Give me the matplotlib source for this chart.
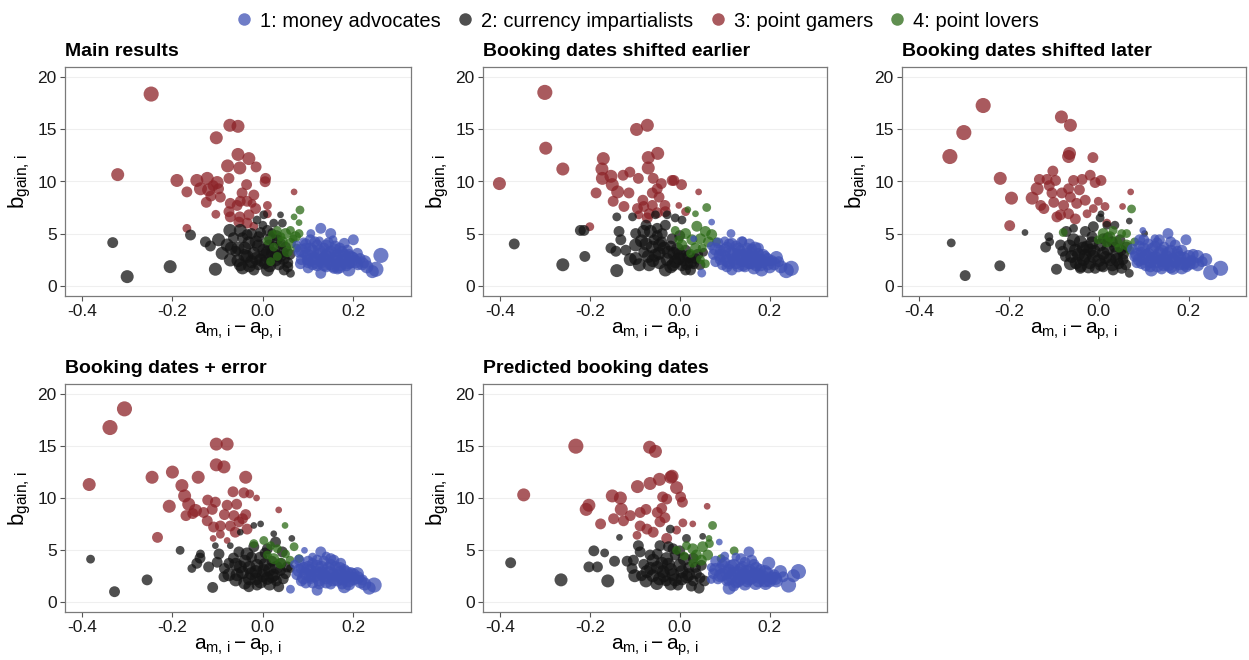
import matplotlib
matplotlib.use("Agg")
import matplotlib.pyplot as plt
from matplotlib.lines import Line2D

plt.rcParams['font.family'] = ['Liberation Sans', 'DejaVu Sans']
plt.rcParams['mathtext.fontset'] = 'custom'
plt.rcParams['mathtext.rm'] = 'Liberation Sans'
plt.rcParams['mathtext.it'] = 'Liberation Sans'

# group labels and colours
groups = ["1: money advocates", "2: currency impartialists", "3: point gamers", "4: point lovers"]
colors = ["#3F51B5", "#141414", "#8C2328", "#2B6A16"]

titles = ["Main results", "Booking dates shifted earlier", "Booking dates shifted later",
          "Booking dates + error", "Predicted booking dates"]

# points: (a_m - a_p, b_gain, weight 1..5)
p1_money = [(0.128, 5.5, 3), (0.15, 5.0, 3), (0.106, 5.0, 2), (0.2, 4.4, 3), (0.18, 4.06, 3), (0.187, 3.4, 3),
            (0.209, 3.1, 3), (0.261, 2.9, 5), (0.25, 1.57, 5), (0.242, 1.34, 4), (0.22, 2.1, 4), (0.128, 1.18, 3),
            (0.19, 1.5, 4), (0.157, 1.66, 3), (0.083, 2.1, 3), (0.098, 2.46, 3),
            (0.075, 3.9, 2), (0.08, 3.2, 3), (0.085, 2.5, 3), (0.09, 4.2, 2), (0.095, 3.6, 3), (0.1, 2.9, 4),
            (0.1, 2.2, 3), (0.105, 4.4, 3), (0.11, 3.3, 4), (0.115, 2.6, 4), (0.12, 1.9, 3), (0.12, 3.9, 3),
            (0.125, 3.0, 4), (0.13, 2.3, 4), (0.135, 3.6, 3), (0.14, 2.8, 4), (0.14, 1.8, 3), (0.145, 4.1, 3),
            (0.15, 3.2, 4), (0.155, 2.4, 4), (0.16, 3.8, 3), (0.165, 2.9, 4), (0.17, 2.0, 4), (0.175, 3.3, 3),
            (0.18, 2.5, 4), (0.185, 1.9, 3), (0.19, 3.0, 3), (0.195, 2.3, 4), (0.2, 2.7, 3), (0.21, 2.0, 3),
            (0.165, 1.6, 3), (0.11, 2.0, 3), (0.09, 3.0, 2), (0.125, 4.3, 2), (0.155, 4.4, 2),
            (0.085, 3.4, 4), (0.095, 4.0, 3), (0.105, 2.5, 4), (0.105, 3.5, 4), (0.115, 4.2, 3), (0.12, 2.2, 4),
            (0.125, 3.3, 4), (0.135, 2.0, 4), (0.135, 2.6, 4), (0.14, 3.9, 3), (0.145, 3.0, 4), (0.15, 2.1, 4),
            (0.16, 2.6, 4), (0.16, 3.4, 4), (0.17, 1.8, 4), (0.17, 3.6, 3), (0.175, 2.4, 4), (0.18, 2.9, 4),
            (0.19, 2.2, 4), (0.195, 2.7, 4), (0.205, 2.3, 4), (0.215, 2.6, 3), (0.225, 2.3, 4), (0.23, 1.8, 4),
            (0.1, 1.7, 3), (0.155, 1.9, 4)]
p1_impart = [(-0.332, 4.13, 3), (-0.30, 0.86, 4), (-0.205, 1.82, 4), (-0.105, 1.57, 4), (-0.16, 4.86, 3),
             (-0.127, 4.2, 3), (-0.116, 3.8, 3), (-0.098, 4.4, 4), (-0.073, 5.3, 4), (-0.05, 5.3, 4),
             (-0.079, 3.9, 4), (-0.09, 3.1, 4), (-0.072, 2.46, 4), (-0.05, 2.0, 4), (-0.031, 4.1, 4),
             (-0.02, 3.1, 4), (-0.013, 6.3, 2), (0.002, 6.8, 2), (0.01, 5.3, 3), (0.024, 6.0, 2), (0.039, 6.8, 1),
             (0.043, 6.0, 2), (-0.005, 2.46, 4), (0.01, 1.5, 4), (0.028, 2.46, 4), (0.047, 1.5, 3), (0.061, 1.18, 2),
             (0.013, 3.9, 3), (0.032, 4.4, 3), (0.05, 3.7, 3), (-0.009, 4.7, 3), (-0.035, 2.8, 4), (-0.02, 1.5, 3),
             (0.021, 3.1, 4), (0.035, 2.1, 4), (0.002, 3.4, 4), (-0.06, 3.3, 3), (-0.045, 4.6, 3), (-0.01, 2.0, 3),
             (0.04, 2.8, 3), (0.055, 2.2, 3), (0.06, 3.0, 3), (-0.025, 5.0, 3), (-0.065, 4.6, 3), (0.0, 5.8, 2),
             (0.02, 5.1, 2),
             (-0.04, 3.6, 4), (-0.015, 4.2, 4), (0.005, 2.9, 4), (0.025, 3.6, 4), (-0.055, 2.4, 4), (0.015, 1.9, 4),
             (0.045, 3.2, 3), (-0.03, 1.9, 4), (-0.005, 5.1, 3), (0.03, 4.8, 3),
             (-0.055, 3.6, 4), (-0.04, 2.9, 4), (-0.025, 2.3, 4), (-0.01, 3.8, 4), (0.005, 2.2, 4), (0.015, 4.5, 3),
             (0.03, 2.9, 4), (0.045, 2.6, 4), (-0.07, 3.6, 4), (-0.035, 4.9, 3), (0.055, 1.8, 3), (-0.015, 2.6, 4),
             (0.04, 4.0, 3), (0.01, 3.2, 4), (-0.045, 1.7, 4)]
p1_gamers = [(-0.247, 18.4, 5), (-0.321, 10.66, 4), (-0.073, 15.4, 4), (-0.055, 15.3, 4), (-0.103, 14.2, 4),
             (-0.055, 12.6, 4), (-0.031, 12.2, 4), (-0.078, 11.5, 4), (-0.051, 11.3, 4), (-0.015, 11.4, 3),
             (-0.19, 10.1, 4), (-0.146, 10.1, 4), (-0.123, 10.3, 4), (-0.101, 9.9, 4), (-0.075, 10.3, 3),
             (0.006, 10.3, 3), (0.005, 9.98, 3), (-0.138, 9.3, 4), (-0.12, 9.2, 4), (-0.098, 9.3, 3),
             (-0.168, 9.0, 3), (-0.036, 9.7, 3), (-0.046, 8.9, 3), (-0.02, 8.7, 3), (0.069, 9.0, 1),
             (-0.125, 8.0, 3), (-0.094, 8.5, 3), (-0.072, 7.9, 3), (-0.05, 8.1, 3), (-0.035, 8.1, 3),
             (-0.024, 7.9, 2), (0.01, 7.7, 2), (-0.075, 7.1, 3), (-0.057, 7.7, 3), (-0.016, 7.4, 3),
             (-0.104, 6.85, 2), (-0.072, 6.6, 3), (-0.051, 6.6, 3), (-0.031, 6.8, 3), (0.01, 6.9, 2),
             (-0.053, 6.1, 3), (-0.168, 5.5, 2), (-0.035, 6.0, 3), (-0.02, 5.7, 2), (-0.115, 8.6, 3), (-0.11, 9.6, 3)]
p1_lovers = [(0.082, 7.26, 2), (0.069, 6.6, 1), (0.08, 6.05, 1), (0.061, 5.3, 2), (0.072, 4.7, 3), (0.05, 5.0, 3),
             (0.032, 5.3, 2), (0.021, 4.9, 2), (0.043, 4.2, 3), (0.061, 4.06, 3), (0.08, 5.0, 2), (0.024, 3.7, 2),
             (0.054, 3.26, 3), (0.032, 2.8, 2), (0.017, 2.3, 2), (0.075, 3.6, 2), (0.067, 4.5, 2), (0.04, 4.7, 2),
             (0.01, 4.3, 2)]

p2_money = [(0.114, 5.0, 2), (0.071, 6.1, 1), (0.031, 4.5, 1), (0.049, 1.2, 2), (0.237, 1.44, 5), (0.248, 1.66, 5),
            (0.215, 2.7, 4), (0.178, 2.5, 4), (0.167, 3.6, 4), (0.116, 4.06, 3), (0.138, 4.2, 3), (0.182, 1.5, 4),
            (0.116, 1.5, 3), (0.197, 2.1, 4), (0.09, 2.5, 3),
            (0.07, 3.8, 2), (0.075, 3.0, 3), (0.08, 2.3, 3), (0.085, 4.1, 3), (0.09, 3.4, 3), (0.095, 2.0, 3),
            (0.1, 2.8, 4), (0.105, 3.7, 3), (0.11, 2.2, 4), (0.115, 3.1, 4), (0.12, 2.5, 4), (0.125, 3.8, 3),
            (0.13, 1.9, 4), (0.13, 2.9, 4), (0.135, 3.4, 3), (0.14, 2.4, 4), (0.145, 1.8, 3), (0.15, 3.0, 4),
            (0.155, 2.2, 4), (0.16, 3.5, 3), (0.165, 2.7, 4), (0.17, 2.0, 4), (0.175, 3.1, 3), (0.185, 2.3, 4),
            (0.19, 2.8, 3), (0.2, 1.8, 4), (0.205, 2.4, 3), (0.14, 4.3, 2), (0.1, 4.3, 2), (0.155, 4.0, 3),
            (0.08, 3.5, 4), (0.09, 2.9, 4), (0.1, 3.4, 4), (0.105, 2.4, 4), (0.11, 4.0, 3), (0.12, 3.0, 4),
            (0.125, 2.2, 4), (0.13, 3.5, 4), (0.14, 2.9, 4), (0.14, 2.0, 4), (0.15, 2.6, 4), (0.15, 3.6, 3),
            (0.16, 2.2, 4), (0.16, 3.0, 4), (0.17, 2.5, 4), (0.175, 3.6, 3), (0.18, 2.0, 4), (0.185, 2.9, 4),
            (0.195, 2.5, 4), (0.21, 2.1, 4), (0.22, 2.3, 3), (0.225, 1.8, 4), (0.105, 1.8, 3), (0.165, 1.7, 4)]
p2_impart = [(-0.368, 4.0, 3), (-0.26, 2.0, 4), (-0.211, 2.8, 3), (-0.221, 5.3, 3), (-0.213, 5.3, 3),
             (-0.14, 1.44, 4), (-0.098, 2.6, 4), (-0.098, 3.9, 4), (-0.14, 6.6, 2), (-0.135, 5.2, 3),
             (-0.131, 4.4, 3), (-0.153, 3.6, 3), (-0.142, 3.3, 3), (-0.12, 3.4, 3), (-0.105, 6.6, 2),
             (-0.098, 5.0, 3), (-0.08, 5.2, 4), (-0.065, 5.2, 4), (-0.05, 5.5, 3), (-0.054, 6.8, 2),
             (-0.028, 6.8, 2), (-0.07, 2.8, 4), (-0.068, 2.0, 4), (-0.061, 3.7, 4), (-0.046, 3.1, 4),
             (-0.032, 1.5, 4), (-0.028, 2.5, 4), (-0.01, 2.3, 4), (-0.013, 3.1, 4), (-0.002, 2.6, 4),
             (0.013, 1.5, 3), (0.024, 1.5, 3), (0.031, 2.1, 3), (0.016, 2.1, 4), (-0.01, 6.5, 2),
             (-0.032, 5.8, 3), (-0.039, 5.0, 3), (-0.017, 4.5, 3), (-0.057, 4.4, 3), (0.053, 3.2, 2),
             (0.013, 3.4, 3), (0.005, 6.3, 2), (-0.04, 4.2, 3), (-0.08, 3.2, 3), (-0.02, 3.8, 3), (0.0, 4.8, 3),
             (0.035, 2.6, 3),
             (-0.085, 4.3, 4), (-0.055, 2.9, 4), (-0.035, 3.6, 4), (-0.005, 3.5, 4), (0.02, 2.8, 4), (-0.02, 1.8, 4),
             (-0.045, 2.2, 4), (-0.075, 5.8, 3), (0.005, 1.9, 3), (0.04, 3.0, 3),
             (-0.09, 2.0, 4), (-0.06, 2.4, 4), (-0.045, 3.9, 4), (-0.025, 3.2, 4), (0.0, 3.0, 4), (0.025, 2.3, 4),
             (-0.075, 4.0, 4), (-0.015, 2.0, 4), (0.01, 2.5, 4), (-0.05, 4.8, 3), (0.045, 2.0, 3), (-0.11, 2.5, 4)]
p2_gamers = [(-0.300, 18.56, 5), (-0.401, 9.8, 4), (-0.298, 13.2, 4), (-0.26, 11.2, 4), (-0.096, 15.0, 4),
             (-0.072, 15.4, 4), (-0.17, 12.2, 4), (-0.173, 11.2, 4), (-0.172, 10.3, 4), (-0.153, 10.5, 4),
             (-0.15, 9.7, 4), (-0.138, 9.0, 4), (-0.186, 8.9, 3), (-0.148, 8.1, 3), (-0.126, 10.6, 3),
             (-0.111, 10.9, 3), (-0.113, 8.9, 3), (-0.092, 10.3, 3), (-0.07, 12.3, 4), (-0.07, 11.3, 4),
             (-0.049, 12.7, 4), (-0.059, 10.3, 3), (-0.05, 9.3, 3), (-0.041, 9.8, 3), (-0.046, 8.5, 3),
             (-0.061, 8.9, 3), (-0.082, 8.2, 3), (-0.08, 7.6, 3), (-0.094, 7.4, 3), (-0.124, 7.6, 3),
             (-0.061, 7.7, 3), (-0.033, 7.7, 3), (-0.017, 10.1, 3), (-0.013, 10.1, 3), (0.004, 9.7, 3),
             (0.042, 9.0, 1), (-0.091, 6.8, 2), (-0.068, 6.9, 3), (-0.032, 7.1, 3), (-0.002, 7.7, 1),
             (0.013, 7.1, 2), (-0.072, 6.5, 3), (-0.2, 5.66, 2), (-0.05, 7.0, 3)]
p2_lovers = [(0.06, 7.5, 2), (0.035, 6.9, 1), (0.018, 7.3, 1), (0.038, 5.7, 3), (0.057, 5.2, 3), (0.071, 4.9, 3),
             (-0.01, 5.3, 2), (0.013, 5.0, 3), (0.027, 4.4, 3), (0.046, 4.5, 3), (0.064, 4.2, 3), (0.082, 4.2, 2),
             (0.005, 3.9, 3), (0.035, 3.6, 3), (0.024, 3.1, 2), (0.046, 2.5, 2), (0.057, 2.1, 2), (-0.002, 4.4, 2),
             (0.05, 3.6, 2)]

p3_money = [(0.154, 5.0, 3), (0.135, 4.4, 3), (0.194, 4.4, 3), (0.271, 1.66, 5), (0.249, 1.25, 5), (0.238, 2.5, 4),
            (0.22, 2.8, 4), (0.201, 2.1, 4), (0.165, 1.66, 4), (0.117, 1.5, 4), (0.095, 2.1, 3), (0.091, 4.4, 3),
            (0.098, 5.3, 1),
            (0.075, 3.5, 3), (0.08, 2.8, 3), (0.085, 2.2, 3), (0.09, 3.8, 3), (0.095, 3.2, 3), (0.1, 2.6, 4),
            (0.105, 1.9, 3), (0.11, 4.0, 3), (0.11, 3.0, 4), (0.115, 2.3, 4), (0.12, 3.5, 4), (0.125, 2.7, 4),
            (0.13, 1.9, 4), (0.13, 4.1, 3), (0.135, 3.1, 4), (0.14, 2.4, 4), (0.145, 3.7, 3), (0.15, 2.8, 4),
            (0.155, 2.0, 4), (0.16, 3.3, 4), (0.165, 2.5, 4), (0.17, 3.9, 3), (0.175, 2.9, 4), (0.18, 2.1, 4),
            (0.185, 3.4, 3), (0.19, 2.6, 4), (0.195, 1.8, 3), (0.205, 2.4, 3), (0.21, 3.0, 3), (0.125, 4.5, 2),
            (0.16, 4.2, 3),
            (0.085, 3.0, 4), (0.09, 2.5, 4), (0.1, 3.5, 4), (0.105, 2.9, 4), (0.115, 1.8, 3), (0.12, 2.6, 4),
            (0.125, 3.8, 3), (0.13, 2.3, 4), (0.14, 3.3, 4), (0.145, 2.0, 4), (0.15, 2.4, 4), (0.155, 3.1, 4),
            (0.16, 1.8, 4), (0.17, 2.3, 4), (0.175, 3.3, 3), (0.18, 2.7, 4), (0.19, 2.1, 4), (0.2, 2.8, 4),
            (0.21, 2.2, 4), (0.22, 2.0, 4), (0.23, 2.3, 3), (0.1, 4.4, 3), (0.14, 1.6, 3), (0.185, 1.7, 4)]
p3_impart = [(-0.328, 4.1, 2), (-0.297, 0.96, 3), (-0.22, 1.9, 3), (-0.164, 5.1, 1), (-0.094, 1.57, 3),
             (-0.111, 4.7, 2), (-0.109, 4.2, 2), (-0.118, 3.7, 3), (-0.085, 3.9, 3), (-0.072, 5.2, 3),
             (-0.074, 2.8, 3), (-0.063, 2.1, 4), (-0.052, 3.4, 4), (-0.041, 4.2, 4), (-0.034, 2.5, 4),
             (-0.023, 1.8, 4), (-0.041, 1.66, 3), (-0.008, 1.66, 3), (0.01, 1.8, 3), (0.032, 1.5, 3),
             (0.051, 1.66, 3), (0.068, 1.18, 2), (-0.012, 5.66, 3), (0.003, 6.5, 2), (0.005, 6.9, 1),
             (0.018, 5.8, 2), (0.036, 5.8, 2), (0.068, 6.2, 1), (0.102, 5.0, 1), (-0.056, 4.4, 4),
             (-0.026, 3.7, 4), (-0.012, 2.8, 4), (0.01, 3.1, 4), (0.025, 2.5, 4), (0.04, 3.1, 4), (0.054, 2.5, 3),
             (0.062, 3.7, 3), (0.003, 3.9, 4), (-0.015, 4.7, 3), (0.047, 4.4, 3), (-0.056, 5.5, 2), (-0.03, 5.2, 3),
             (0.02, 4.6, 3), (0.06, 2.0, 3), (-0.045, 3.0, 4), (0.035, 3.7, 3),
             (-0.06, 2.8, 4), (-0.035, 3.6, 4), (-0.02, 2.2, 4), (0.0, 2.4, 4), (0.02, 3.5, 4), (0.045, 2.1, 3),
             (-0.01, 3.3, 4), (0.03, 2.0, 4), (0.055, 3.0, 3), (-0.08, 3.3, 3),
             (-0.05, 2.2, 4), (-0.03, 2.9, 4), (-0.015, 4.1, 4), (0.005, 2.0, 4), (0.015, 2.7, 4), (0.03, 4.2, 3),
             (0.04, 2.5, 4), (-0.065, 3.8, 4), (-0.02, 3.4, 4), (0.01, 4.5, 3), (0.05, 3.4, 3), (-0.04, 1.9, 4)]
p3_gamers = [(-0.257, 17.3, 5), (-0.3, 14.7, 5), (-0.331, 12.4, 5), (-0.219, 10.3, 4), (-0.194, 8.4, 4),
             (-0.198, 5.76, 3), (-0.083, 16.2, 4), (-0.063, 15.4, 4), (-0.065, 12.7, 4), (-0.067, 12.4, 4),
             (-0.013, 12.3, 3), (-0.102, 11.0, 3), (-0.115, 10.2, 3), (-0.096, 10.1, 3), (-0.132, 10.2, 3),
             (-0.056, 10.1, 3), (-0.037, 10.2, 3), (-0.019, 10.6, 3), (-0.008, 9.9, 3), (0.005, 10.1, 3),
             (-0.137, 9.3, 4), (-0.148, 8.4, 4), (-0.129, 7.7, 3), (-0.122, 7.4, 3), (-0.104, 8.9, 3),
             (-0.082, 8.9, 3), (-0.067, 9.3, 3), (-0.043, 9.2, 3), (-0.063, 8.5, 3), (-0.049, 7.9, 3),
             (-0.03, 8.2, 3), (-0.1, 8.0, 3), (-0.085, 6.8, 3), (-0.067, 6.9, 3), (-0.093, 6.6, 3),
             (-0.052, 6.4, 3), (-0.026, 6.9, 2), (-0.012, 7.4, 2), (-0.001, 8.1, 2), (0.014, 7.6, 2),
             (0.071, 9.0, 1), (0.053, 7.6, 1), (0.018, 6.0, 2), (-0.078, 7.7, 3), (-0.11, 9.6, 3)]
p3_lovers = [(0.073, 7.36, 2), (0.062, 5.0, 2), (0.08, 4.2, 2), (0.062, 3.9, 3), (0.04, 4.2, 3), (0.018, 4.2, 3),
             (-0.001, 4.4, 2), (0.01, 5.0, 3), (0.032, 5.3, 2), (0.051, 5.0, 2), (-0.079, 5.1, 2), (0.025, 4.7, 3),
             (0.07, 3.4, 2), (0.045, 3.6, 2)]

p4_money = [(0.092, 4.95, 1), (0.128, 4.8, 3), (0.15, 4.15, 3), (0.157, 4.0, 3), (0.172, 3.7, 3), (0.209, 2.7, 4),
            (0.246, 1.6, 5), (0.235, 1.3, 4), (0.216, 1.9, 4), (0.18, 1.44, 4), (0.12, 1.1, 3), (0.061, 1.2, 2),
            (0.084, 3.2, 3), (0.106, 2.24, 3),
            (0.07, 3.6, 2), (0.075, 2.6, 3), (0.08, 4.0, 3), (0.085, 2.0, 3), (0.09, 3.3, 3), (0.095, 2.7, 4),
            (0.1, 3.9, 3), (0.105, 3.0, 4), (0.11, 1.8, 3), (0.115, 2.5, 4), (0.12, 3.4, 4), (0.125, 2.1, 4),
            (0.13, 2.8, 4), (0.135, 3.9, 3), (0.14, 2.3, 4), (0.145, 3.2, 4), (0.15, 1.7, 3), (0.155, 2.6, 4),
            (0.16, 3.4, 3), (0.165, 2.1, 4), (0.17, 2.8, 4), (0.175, 1.7, 3), (0.18, 3.1, 3), (0.185, 2.4, 4),
            (0.19, 2.0, 4), (0.195, 2.8, 3), (0.2, 2.2, 4), (0.14, 4.4, 2), (0.11, 4.3, 2),
            (0.08, 3.0, 4), (0.09, 2.3, 4), (0.1, 3.3, 4), (0.105, 2.5, 4), (0.11, 3.7, 3), (0.12, 2.8, 4),
            (0.125, 1.7, 3), (0.13, 3.3, 4), (0.135, 2.5, 4), (0.14, 1.9, 4), (0.145, 2.8, 4), (0.15, 3.6, 3),
            (0.155, 2.1, 4), (0.165, 2.5, 4), (0.17, 3.2, 4), (0.175, 2.2, 4), (0.185, 2.8, 4), (0.19, 1.7, 4),
            (0.2, 2.6, 4), (0.21, 2.3, 4), (0.22, 2.1, 3), (0.225, 1.7, 4), (0.095, 1.8, 3), (0.12, 4.0, 3)]
p4_impart = [(-0.381, 4.1, 2), (-0.328, 0.96, 3), (-0.256, 2.1, 3), (-0.111, 1.37, 3), (-0.183, 4.95, 2),
             (-0.138, 4.6, 2), (-0.139, 4.2, 3), (-0.157, 3.2, 2), (-0.146, 3.7, 3), (-0.12, 3.35, 3),
             (-0.101, 3.8, 3), (-0.097, 4.6, 3), (-0.105, 5.4, 1), (-0.086, 2.4, 3), (-0.075, 3.7, 3),
             (-0.072, 5.4, 1), (-0.057, 2.6, 4), (-0.053, 4.8, 3), (-0.035, 4.6, 4), (-0.031, 1.44, 3),
             (-0.013, 1.6, 3), (-0.02, 7.35, 1), (-0.005, 7.5, 1), (0.024, 6.55, 1), (0.064, 6.1, 1),
             (0.035, 1.44, 3), (0.01, 2.24, 4), (0.024, 2.56, 4), (0.039, 3.0, 3), (0.054, 3.35, 3),
             (0.028, 5.75, 3), (0.01, 5.1, 3), (-0.013, 3.5, 4), (-0.016, 2.9, 4), (0.002, 3.0, 4),
             (-0.02, 5.3, 3), (-0.05, 3.35, 4), (0.043, 4.8, 3), (0.061, 3.2, 2), (-0.05, 6.7, 1),
             (-0.03, 2.2, 4), (-0.005, 4.2, 4), (0.02, 3.9, 3), (-0.065, 4.2, 3), (0.045, 2.2, 3),
             (-0.04, 3.9, 4), (-0.025, 2.7, 4), (0.0, 2.5, 4), (0.015, 3.1, 4), (-0.06, 2.1, 4), (0.03, 2.0, 3),
             (-0.005, 1.9, 4), (0.05, 2.7, 3), (-0.085, 3.2, 3), (0.005, 4.7, 3),
             (-0.045, 2.8, 4), (-0.03, 3.3, 4), (-0.015, 2.2, 4), (0.005, 3.6, 4), (0.02, 2.4, 4), (0.03, 3.3, 4),
             (-0.06, 3.6, 4), (-0.04, 1.8, 4), (0.015, 1.7, 4), (-0.025, 4.3, 3), (0.04, 3.7, 3), (-0.075, 2.6, 4)]
p4_gamers = [(-0.306, 18.6, 5), (-0.338, 16.8, 5), (-0.384, 11.3, 4), (-0.233, 6.2, 3), (-0.245, 12.0, 4),
             (-0.2, 12.5, 4), (-0.207, 9.2, 4), (-0.179, 11.2, 4), (-0.173, 10.2, 4), (-0.164, 9.4, 4),
             (-0.149, 8.8, 4), (-0.17, 8.3, 3), (-0.143, 12.0, 4), (-0.122, 9.8, 3), (-0.112, 8.9, 3),
             (-0.131, 8.6, 3), (-0.123, 7.8, 3), (-0.105, 9.6, 3), (-0.103, 15.2, 4), (-0.079, 15.2, 4),
             (-0.103, 13.2, 4), (-0.086, 13.0, 4), (-0.066, 10.6, 3), (-0.079, 9.3, 3), (-0.058, 9.4, 3),
             (-0.038, 12.0, 4), (-0.042, 10.5, 3), (-0.029, 10.4, 2), (-0.014, 10.0, 1), (-0.085, 8.4, 3),
             (-0.064, 8.3, 3), (-0.038, 8.4, 3), (-0.053, 7.7, 3), (-0.072, 7.3, 3), (-0.094, 7.3, 3),
             (-0.109, 7.2, 3), (-0.094, 6.5, 2), (-0.061, 6.7, 3), (0.035, 8.85, 1), (-0.11, 6.1, 1),
             (-0.079, 5.9, 1), (-0.035, 7.0, 3), (-0.045, 8.0, 3), (-0.155, 8.5, 3)]
p4_lovers = [(0.049, 7.35, 1), (0.069, 5.3, 2), (0.08, 4.15, 2), (0.05, 4.6, 2), (0.032, 5.1, 2), (0.017, 5.4, 2),
             (0.002, 5.9, 2), (-0.02, 5.6, 2), (0.024, 4.15, 3), (0.039, 3.7, 3), (0.01, 4.5, 2), (0.06, 4.0, 2)]

p5_money = [(0.088, 5.75, 1), (0.154, 4.8, 3), (0.198, 3.7, 4), (0.224, 2.9, 4), (0.264, 2.9, 5), (0.253, 2.5, 4),
            (0.242, 1.6, 5), (0.213, 2.24, 4), (0.191, 1.75, 4), (0.169, 1.75, 4), (0.11, 1.3, 4), (0.07, 2.14, 2),
            (0.136, 4.15, 3),
            (0.07, 3.3, 2), (0.075, 2.7, 3), (0.08, 3.9, 3), (0.085, 2.2, 3), (0.09, 3.2, 3), (0.095, 2.6, 4),
            (0.1, 3.8, 3), (0.105, 2.0, 3), (0.11, 3.0, 4), (0.115, 2.4, 4), (0.12, 3.5, 4), (0.125, 1.8, 3),
            (0.13, 2.8, 4), (0.135, 2.2, 4), (0.14, 3.3, 4), (0.145, 2.6, 4), (0.15, 1.9, 3), (0.155, 3.0, 4),
            (0.16, 2.3, 4), (0.165, 3.6, 3), (0.17, 2.7, 4), (0.175, 2.0, 4), (0.18, 3.1, 3), (0.185, 2.4, 4),
            (0.19, 2.9, 4), (0.2, 2.0, 4), (0.21, 2.6, 3), (0.125, 4.3, 2), (0.1, 4.4, 2),
            (0.08, 3.1, 4), (0.09, 2.5, 4), (0.095, 3.6, 3), (0.105, 2.8, 4), (0.11, 2.2, 4), (0.115, 3.4, 4),
            (0.12, 2.7, 4), (0.13, 2.0, 4), (0.135, 3.1, 4), (0.14, 2.5, 4), (0.145, 3.8, 3), (0.15, 2.9, 4),
            (0.155, 2.2, 4), (0.165, 2.6, 4), (0.17, 3.2, 4), (0.18, 2.3, 4), (0.19, 2.0, 4), (0.195, 2.7, 4),
            (0.205, 2.3, 4), (0.215, 2.0, 4), (0.23, 2.4, 3), (0.12, 1.5, 3), (0.145, 1.7, 4), (0.16, 4.0, 3)]
p5_impart = [(-0.376, 3.75, 3), (-0.264, 2.1, 4), (-0.16, 2.0, 4), (-0.202, 3.35, 3), (-0.183, 3.35, 3),
             (-0.191, 4.9, 3), (-0.167, 4.7, 2), (-0.145, 3.9, 3), (-0.134, 6.2, 1), (-0.117, 3.9, 3),
             (-0.106, 3.2, 3), (-0.103, 4.0, 3), (-0.092, 5.4, 3), (-0.088, 4.8, 3), (-0.073, 2.9, 4),
             (-0.075, 2.0, 4), (-0.051, 1.75, 4), (-0.059, 4.0, 4), (-0.029, 4.15, 4), (-0.021, 7.0, 2),
             (-0.004, 1.6, 3), (-0.015, 2.6, 4), (0.015, 2.4, 4), (0.026, 1.5, 3), (0.043, 1.3, 3),
             (0.051, 6.3, 1), (0.015, 6.1, 2), (-0.044, 5.4, 3), (-0.015, 5.1, 3), (0.0, 3.5, 4),
             (0.037, 2.7, 3), (0.048, 3.5, 3), (-0.037, 2.9, 4), (-0.066, 4.5, 3), (-0.05, 3.3, 4),
             (-0.01, 4.5, 3), (0.02, 3.3, 3), (-0.03, 2.0, 3), (0.03, 4.2, 3), (-0.08, 3.6, 3),
             (-0.06, 2.5, 4), (-0.04, 3.7, 4), (-0.02, 3.1, 4), (0.005, 2.2, 4), (0.01, 4.1, 4), (-0.045, 2.2, 4),
             (0.03, 2.0, 3), (0.045, 2.3, 3), (-0.025, 5.3, 3), (-0.085, 2.5, 3),
             (-0.065, 3.2, 4), (-0.035, 2.5, 4), (-0.01, 2.1, 4), (0.005, 2.9, 4), (0.02, 2.6, 4), (-0.025, 3.6, 4),
             (-0.05, 4.6, 3), (0.0, 4.9, 3), (0.035, 3.3, 3), (-0.1, 2.5, 4), (-0.02, 1.7, 4), (0.055, 2.0, 3)]
p5_gamers = [(-0.231, 15.0, 5), (-0.347, 10.3, 4), (-0.208, 8.9, 4), (-0.202, 9.3, 4), (-0.176, 7.5, 3),
             (-0.15, 10.2, 4), (-0.132, 10.0, 4), (-0.13, 8.9, 4), (-0.147, 8.0, 3), (-0.125, 7.8, 3),
             (-0.11, 8.3, 3), (-0.094, 11.1, 4), (-0.066, 11.4, 4), (-0.045, 11.8, 4), (-0.067, 14.9, 4),
             (-0.054, 14.5, 4), (-0.017, 12.1, 4), (-0.007, 11.0, 4), (0.002, 10.1, 3), (0.006, 9.6, 3),
             (-0.038, 10.1, 3), (-0.029, 9.9, 3), (-0.075, 8.9, 3), (-0.088, 8.6, 3), (-0.05, 8.6, 3),
             (-0.033, 8.1, 3), (-0.044, 7.7, 3), (-0.088, 7.3, 3), (-0.073, 7.0, 3), (-0.059, 6.7, 3),
             (-0.095, 6.4, 2), (0.007, 7.6, 2), (0.029, 7.5, 1), (0.061, 9.2, 1), (-0.029, 6.1, 3),
             (-0.007, 6.9, 2), (-0.02, 12.0, 4), (-0.04, 9.0, 3)]
p5_lovers = [(0.073, 7.35, 2), (0.065, 6.1, 1), (0.121, 4.9, 2), (0.092, 4.15, 2), (-0.007, 4.95, 2),
             (0.015, 5.4, 2), (0.029, 5.1, 3), (0.051, 5.3, 3), (0.062, 4.5, 3), (0.037, 4.5, 3), (0.029, 3.7, 2),
             (0.048, 4.0, 3), (0.066, 5.6, 2), (0.01, 4.4, 2)]

panels = [
    (p1_money, p1_impart, p1_gamers, p1_lovers),
    (p2_money, p2_impart, p2_gamers, p2_lovers),
    (p3_money, p3_impart, p3_gamers, p3_lovers),
    (p4_money, p4_impart, p4_gamers, p4_lovers),
    (p5_money, p5_impart, p5_gamers, p5_lovers),
]


def marker_area(w):
    # weight 1..5 -> diameter ~6.7..15 px at 100 dpi
    d_pt = 0.72 * (4.6 + 2.1 * w)
    return d_pt ** 2


fig = plt.figure(figsize=(12.49, 6.6), dpi=100)

W, H = 1249, 660
lefts = [65, 483, 902]
widths = [346, 344, 344]
rows = [(67, 296), (384, 612)]
positions = []
for r in range(2):
    for c in range(3):
        if r == 1 and c == 2:
            continue
        top, bot = rows[r]
        positions.append([lefts[c] / W, 1 - bot / H, widths[c] / W, (bot - top) / H])

draw_order = [2, 1, 3, 0]  # gamers, impartialists, lovers, money on top
for i, pos in enumerate(positions):
    ax = fig.add_axes(pos)
    for g in draw_order:
        pts = panels[i][g]
        xs = [p[0] for p in pts]
        ys = [p[1] for p in pts]
        ss = [marker_area(p[2]) for p in pts]
        ax.scatter(xs, ys, s=ss, color=colors[g], alpha=0.75, linewidths=0, zorder=3)
    ax.set_xlim(-0.4375, 0.3275)
    ax.set_ylim(-1, 21)
    ax.set_xticks([-0.4, -0.2, 0.0, 0.2])
    ax.set_xticklabels(["-0.4", "-0.2", "0.0", "0.2"])
    ax.set_yticks([0, 5, 10, 15, 20])
    ax.grid(axis='y', color='#EFEFEF', linewidth=0.8, zorder=0)
    ax.set_axisbelow(True)
    for sp in ax.spines.values():
        sp.set_color('#7A7A7A')
        sp.set_linewidth(0.9)
    ax.tick_params(direction='out', length=3.5, width=0.8, color='#555555',
                   labelsize=12.5, labelcolor='#1A1A1A', pad=2.5)
    ax.set_title(titles[i], loc='left', fontsize=14, fontweight='bold', pad=8)
    ax.set_xlabel(r'$a_{m,\,i} - a_{p,\,i}$', fontsize=15, labelpad=1)
    ax.set_ylabel(r'$b_{gain,\,i}$', fontsize=16, labelpad=3)

handles = [Line2D([], [], marker='o', linestyle='', markersize=9, color=colors[g], alpha=0.75,
                  markeredgewidth=0) for g in range(4)]
fig.legend(handles, groups, loc='upper center', bbox_to_anchor=(0.509, 1.01), ncol=4, frameon=False,
           fontsize=14.5, handletextpad=0.2, columnspacing=0.6, handlelength=1.2)

fig.savefig("out.png", dpi=100)
